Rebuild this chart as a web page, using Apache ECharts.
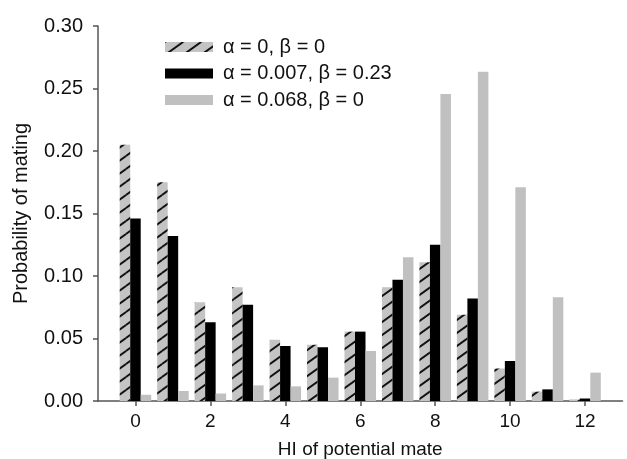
<!DOCTYPE html>
<html>
<head>
<meta charset="utf-8">
<script src="https://cdn.jsdelivr.net/npm/echarts@6/dist/echarts.min.js"></script>
<style>
html,body{margin:0;padding:0;background:#fff;}
#chart{width:627px;height:459px;}
</style>
</head>
<body>
<div id="chart"></div>
<script>
// Categories (HI of potential mate), with padding slots -1 and 13 on the axis
const hiValues = [0,1,2,3,4,5,6,7,8,9,10,11,12];
const axisCategories = ['-1','0','1','2','3','4','5','6','7','8','9','10','11','12','13'];
const tickLabels = ['0','2','4','6','8','10','12'];
const seriesNames = ['α = 0, β = 0', 'α = 0.007, β = 0.23', 'α = 0.068, β = 0'];
const neutral = [0.205,0.175,0.079,0.091,0.049,0.045,0.0555,0.091,0.111,0.069,0.026,0.0075,0.0013];
const fitted  = [0.146,0.132,0.063,0.077,0.044,0.043,0.0555,0.097,0.125,0.082,0.032,0.0093,0.002];
const strong  = [0.005,0.008,0.006,0.0125,0.0117,0.0187,0.040,0.115,0.2456,0.2635,0.171,0.083,0.0227];

function pad(arr){ return ['-'].concat(arr, ['-']); }

function hatch(){
  const W = 18, H = 13;
  const c = document.createElement('canvas');
  c.width = W; c.height = H;
  const g = c.getContext('2d');
  g.fillStyle = '#c4c4c4';
  g.fillRect(0,0,W,H);
  g.strokeStyle = '#111';
  g.lineWidth = 1.9;
  for (const dx of [-W,0,W]) {
    for (const dy of [-H,0,H]) {
      g.beginPath();
      g.moveTo(dx, H+dy);
      g.lineTo(W+dx, dy);
      g.stroke();
    }
  }
  return c;
}

const FONT = '"Liberation Sans", Arial, Helvetica, sans-serif';
const chart = echarts.init(document.getElementById('chart'), null, {renderer:'canvas'});
const isTick = (idx, val) => tickLabels.indexOf(String(val)) >= 0;

chart.setOption({
  animation: false,
  backgroundColor: '#fff',
  grid: {left: 98, right: 4.5, top: 26, bottom: 58, containLabel: false, outerBoundsMode: 'none'},
  legend: {
    orient: 'vertical',
    left: 160, top: 32,
    itemWidth: 48, itemHeight: 10,
    itemGap: 6.5,
    icon: 'rect',
    textStyle: {fontFamily: FONT, fontSize: 20, color: '#111', padding: [0,0,0,5]},
    data: seriesNames
  },
  xAxis: {
    type: 'category',
    data: axisCategories,
    boundaryGap: false,
    name: 'HI of potential mate',
    nameLocation: 'middle',
    nameGap: 39,
    nameTextStyle: {fontFamily: FONT, fontSize: 19, color: '#111'},
    axisLine: {lineStyle: {color: '#555', width: 1.5}},
    axisTick: {show: true, interval: isTick, length: 5, lineStyle: {color: '#555', width: 1.5}},
    axisLabel: {interval: isTick, margin: 11, fontFamily: FONT, fontSize: 19, color: '#111'},
    splitLine: {show: false}
  },
  yAxis: {
    type: 'value',
    min: 0, max: 0.3, interval: 0.05,
    name: 'Probability of mating',
    nameLocation: 'middle',
    nameGap: 67,
    nameTextStyle: {fontFamily: FONT, fontSize: 20, color: '#111'},
    axisLine: {show: true, lineStyle: {color: '#555', width: 1.5}},
    axisTick: {show: true, length: 5, lineStyle: {color: '#555', width: 1.5}},
    axisLabel: {margin: 15, fontFamily: FONT, fontSize: 20, color: '#111', formatter: v => v.toFixed(2)},
    splitLine: {show: false}
  },
  series: [
    {name: seriesNames[0], type: 'bar', data: pad(neutral), barWidth: 10.5, barGap: '0%',
     itemStyle: {color: {image: hatch(), repeat: 'repeat'}}},
    {name: seriesNames[1], type: 'bar', data: pad(fitted), barWidth: 10.5, barGap: '0%',
     itemStyle: {color: '#000'}},
    {name: seriesNames[2], type: 'bar', data: pad(strong), barWidth: 10.5, barGap: '0%',
     itemStyle: {color: '#c0c0c0'}}
  ]
});
</script>
</body>
</html>
